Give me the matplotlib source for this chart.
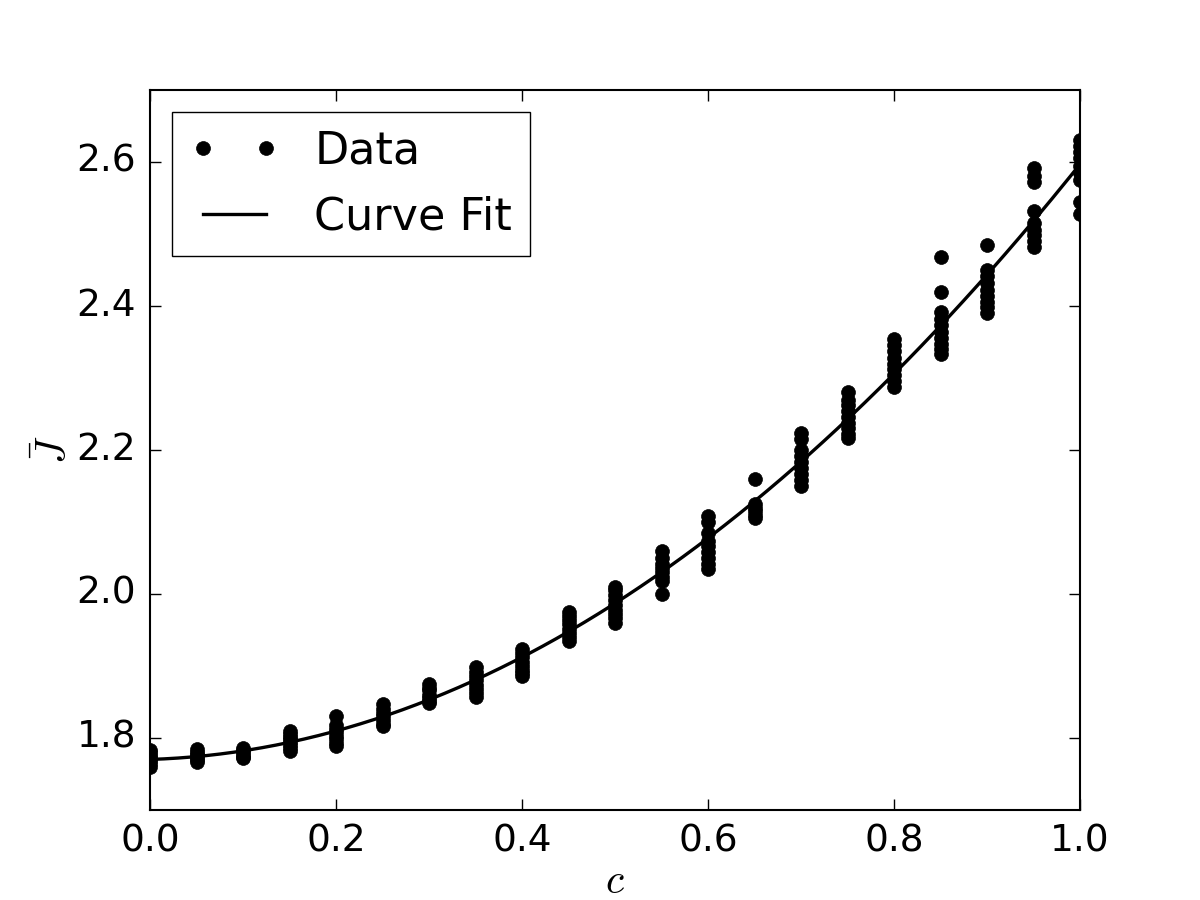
import numpy as np
import matplotlib
matplotlib.use('Agg')
import matplotlib.pyplot as plt

plt.style.use('classic')

# concentration steps and the measured J-bar values at each step
c_levels = [0.0, 0.05, 0.1, 0.15, 0.2, 0.25, 0.3, 0.35, 0.4, 0.45, 0.5,
            0.55, 0.6, 0.65, 0.7, 0.75, 0.8, 0.85, 0.9, 0.95, 1.0]
j_values = [
    [1.760, 1.764, 1.768, 1.771, 1.774, 1.777, 1.780, 1.783],
    [1.766, 1.769, 1.772, 1.775, 1.778, 1.781, 1.785],
    [1.772, 1.774, 1.777, 1.780, 1.783, 1.786],
    [1.782, 1.786, 1.790, 1.794, 1.798, 1.802, 1.806, 1.810],
    [1.789, 1.793, 1.798, 1.803, 1.808, 1.813, 1.818, 1.830],
    [1.816, 1.820, 1.825, 1.830, 1.835, 1.840, 1.847],
    [1.848, 1.851, 1.855, 1.860, 1.866, 1.870, 1.875],
    [1.857, 1.862, 1.868, 1.874, 1.880, 1.886, 1.892, 1.899],
    [1.886, 1.890, 1.895, 1.900, 1.906, 1.912, 1.918, 1.924],
    [1.935, 1.940, 1.946, 1.952, 1.958, 1.964, 1.970, 1.975],
    [1.960, 1.966, 1.972, 1.978, 1.985, 1.992, 1.999, 2.005, 2.010],
    [2.000, 2.018, 2.024, 2.030, 2.036, 2.042, 2.050, 2.060],
    [2.035, 2.042, 2.050, 2.058, 2.066, 2.074, 2.085, 2.100, 2.108],
    [2.106, 2.110, 2.115, 2.120, 2.125, 2.160],
    [2.150, 2.158, 2.166, 2.175, 2.184, 2.192, 2.200, 2.215, 2.224],
    [2.216, 2.222, 2.230, 2.238, 2.246, 2.254, 2.262, 2.270, 2.280],
    [2.288, 2.296, 2.304, 2.312, 2.320, 2.328, 2.337, 2.346, 2.354],
    [2.334, 2.340, 2.347, 2.355, 2.364, 2.373, 2.382, 2.392, 2.420, 2.468],
    [2.390, 2.398, 2.406, 2.414, 2.422, 2.432, 2.442, 2.450, 2.485],
    [2.482, 2.490, 2.498, 2.506, 2.515, 2.532, 2.572, 2.580, 2.592],
    [2.528, 2.545, 2.575, 2.585, 2.595, 2.605, 2.614, 2.622, 2.630],
]

c_data = np.concatenate([[c] * len(v) for c, v in zip(c_levels, j_values)])
j_data = np.concatenate(j_values)

coef = np.polyfit(c_data, j_data, 2)
c_fit = np.linspace(0, 1, 200)
j_fit = np.polyval(coef, c_fit)

fig, ax = plt.subplots(figsize=(12, 9), dpi=100)
ax.plot(c_data, j_data, 'ko', markersize=10, label='Data')
ax.plot(c_fit, j_fit, 'k-', linewidth=2.4, label='Curve Fit')

ax.set_xlim(0, 1)
ax.set_ylim(1.7, 2.7)
ax.set_xticks([0.0, 0.2, 0.4, 0.6, 0.8, 1.0])
ax.set_yticks([1.8, 2.0, 2.2, 2.4, 2.6])
ax.tick_params(labelsize=27, length=8, width=1, pad=10)
for s in ax.spines.values():
    s.set_linewidth(1.5)

ax.set_xlabel(r'$c$', fontsize=30, labelpad=0)
ax.set_ylabel(r'$\bar{J}$', fontsize=30, labelpad=0)
ax.legend(loc='upper left', fontsize=32, numpoints=2)

fig.savefig('out.png', dpi=100)
